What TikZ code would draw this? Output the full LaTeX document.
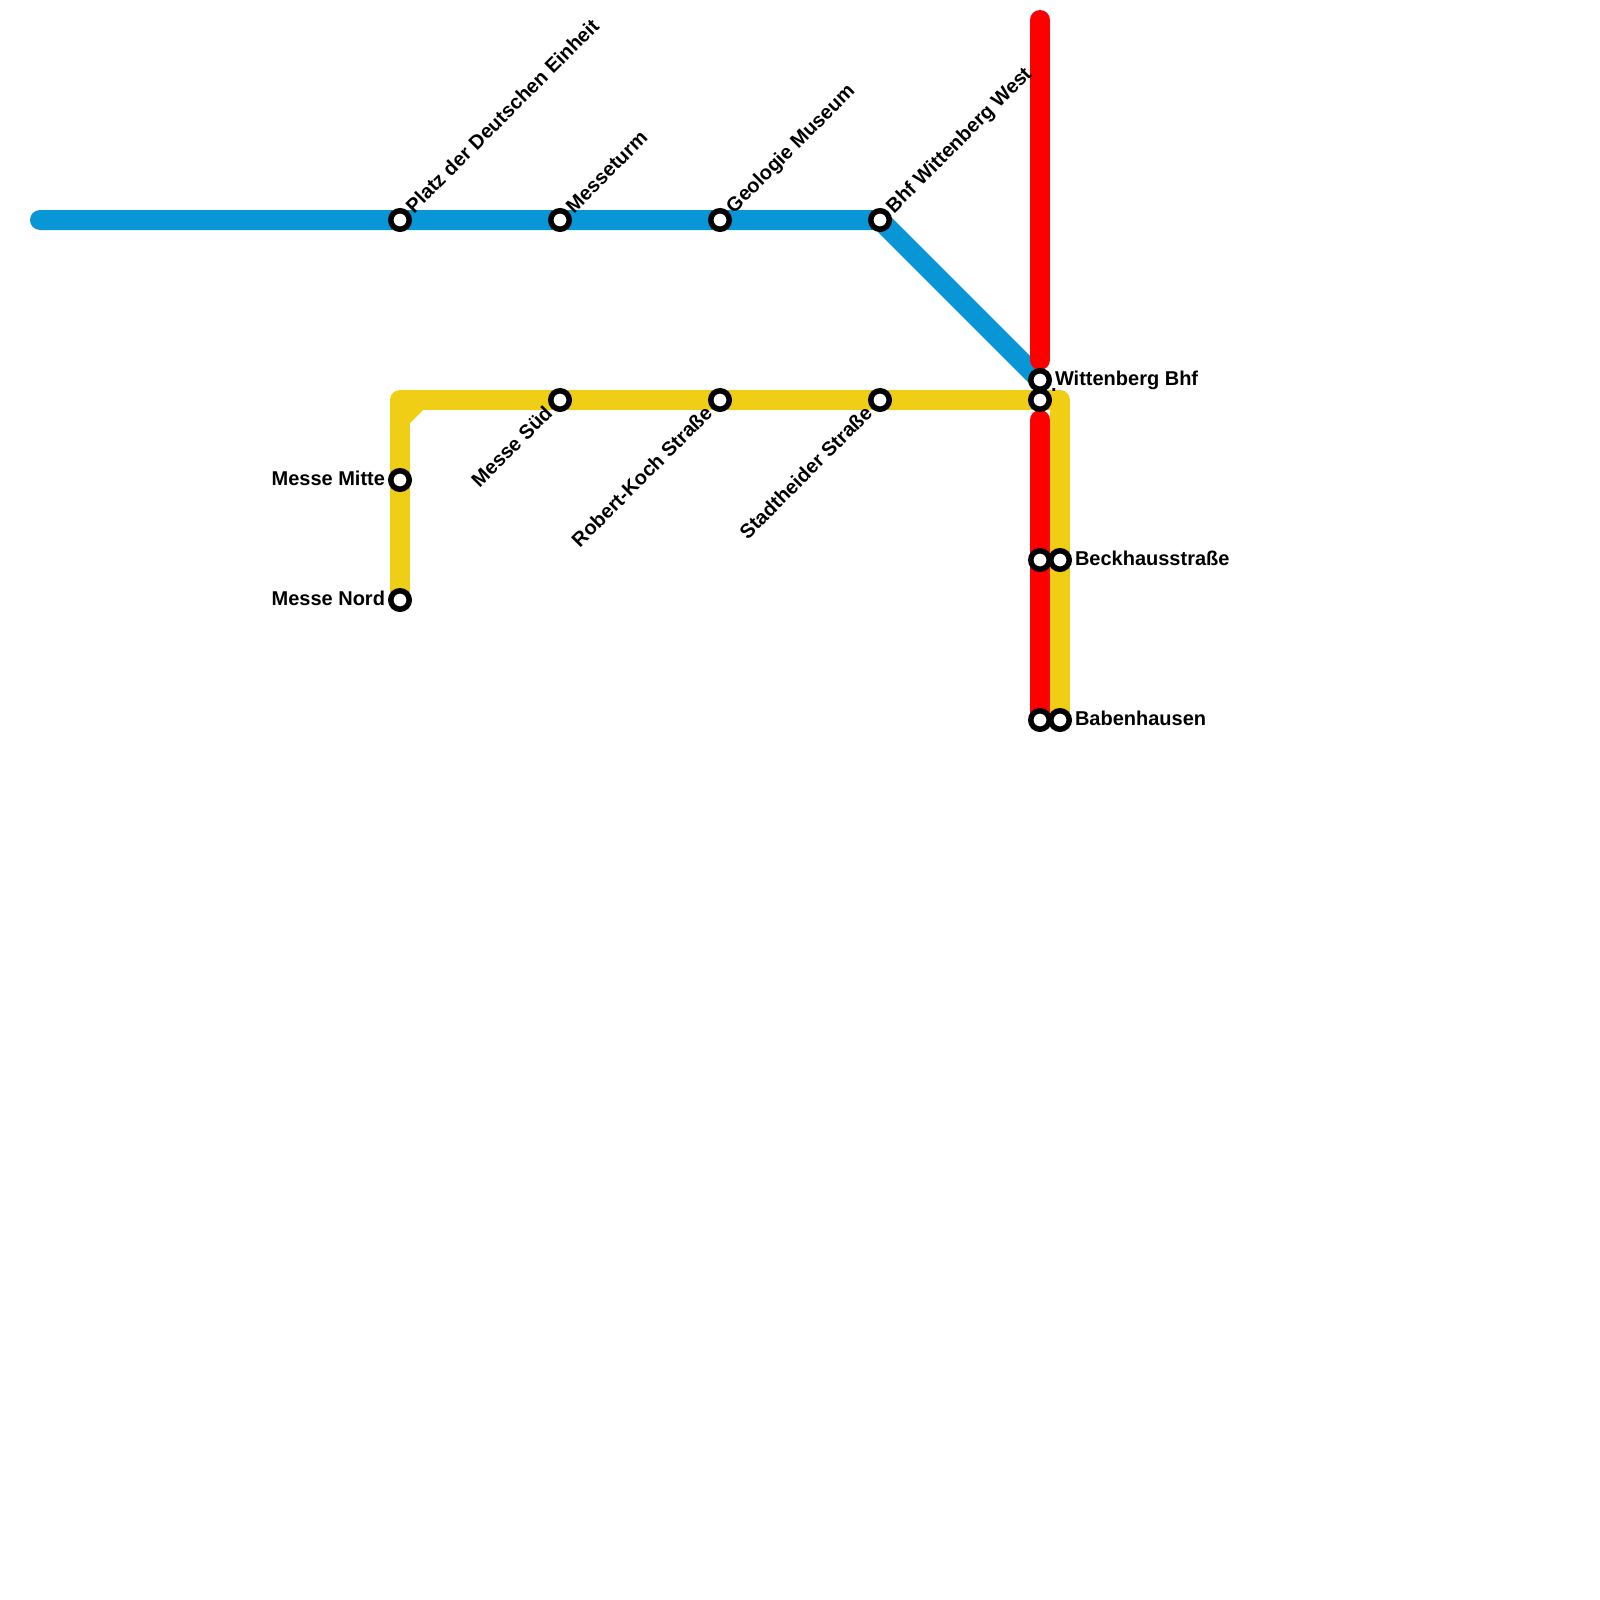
\documentclass[tikz,border=0pt]{standalone}
\usepackage{fontspec}
\setmainfont{Liberation Sans}
\usetikzlibrary{backgrounds}
\definecolor{lineblue}{HTML}{0896D7}
\definecolor{lineyellow}{HTML}{F0CE15}
\definecolor{linered}{HTML}{FF0000}
\tikzset{
  stn/.style={circle,draw=black,fill=white,line width=5.5pt,minimum size=18.5pt,inner sep=0pt,outer sep=0pt},
  metro/.style={line width=20pt,line cap=round,line join=round},
  lbl/.style={font=\fontsize{20pt}{20pt}\selectfont\bfseries,text=black,inner sep=0pt,outer sep=0pt},
  lblr/.style={lbl,anchor=base west},
  lbll/.style={lbl,anchor=base east},
  lblu/.style={lbl,anchor=base west,rotate=45},
  lbld/.style={lbl,anchor=base east,rotate=45},
}
\begin{document}
\begin{tikzpicture}[x=1pt,y=-1pt]
\useasboundingbox (0,0) rectangle (1600,1600);
% stations
\node[stn] (platz) at (400,220) {};
\node[stn] (turm) at (560,220) {};
\node[stn] (geo) at (720,220) {};
\node[stn] (bhfw) at (880,220) {};
\node[stn] (witt) at (1040,380) {};
\node[stn] (wittb) at (1040,400) {};
\node[stn] (sued) at (560,400) {};
\node[stn] (koch) at (720,400) {};
\node[stn] (stadt) at (880,400) {};
\node[stn] (mitte) at (400,480) {};
\node[stn] (nord) at (400,600) {};
\node[stn] (beckr) at (1040,560) {};
\node[stn] (beck) at (1060,560) {};
\node[stn] (babr) at (1040,720) {};
\node[stn] (bab) at (1060,720) {};
\coordinate (bluestart) at (40,220);
\coordinate (redtop) at (1040,20);
\coordinate (redgapa) at (1040,360);
\coordinate (redgapb) at (1040,420);
\coordinate (ycornera) at (400,400);
\coordinate (ycornerb) at (1060,400);
\begin{pgfonlayer}{background}
\fill[white] (0,0) rectangle (1600,1600);
\draw[metro,lineblue] (bluestart) -- (platz.center) -- (turm.center) -- (geo.center) -- (bhfw.center) -- (witt.center);
\draw[metro,lineyellow] (nord.center) -- (mitte.center) -- (ycornera) -- (sued.center) -- (koch.center) -- (stadt.center) -- (wittb.center) -- (ycornerb) -- (beck.center) -- (bab.center);
\fill[lineyellow] (409,409) -- (424,409) -- (409,424) -- cycle;
\draw[metro,linered] (redtop) -- (redgapa);
\draw[metro,linered] (redgapb) -- (beckr.center) -- (babr.center);
\end{pgfonlayer}
% labels
\node[lblu] (lplatz) at (414,214) {Platz der Deutschen Einheit};
\node[lblu] (lturm) at (574,214) {Messeturm};
\node[lblu] (lgeo) at (734,214) {Geologie Museum};
\node[lblu] (lbhfw) at (894,214) {Bhf Wittenberg West};
\node[lblr] (lwitt) at (1055,385) {Wittenberg Bhf};
\node[lblr] (lwittb) at (1051,391) {.};
\node[lbld] (lsued) at (553.5,414.5) {Messe Süd};
\node[lbld] (lkoch) at (713.5,414.5) {Robert-Koch Straße};
\node[lbld] (lstadt) at (873.5,414.5) {Stadtheider Straße};
\node[lbll] (lmitte) at (385,485) {Messe Mitte};
\node[lbll] (lnord) at (385,605) {Messe Nord};
\node[lblr] (lbeck) at (1075,565) {Beckhausstraße};
\node[lblr] (lbab) at (1075,725) {Babenhausen};
\end{tikzpicture}
\end{document}
